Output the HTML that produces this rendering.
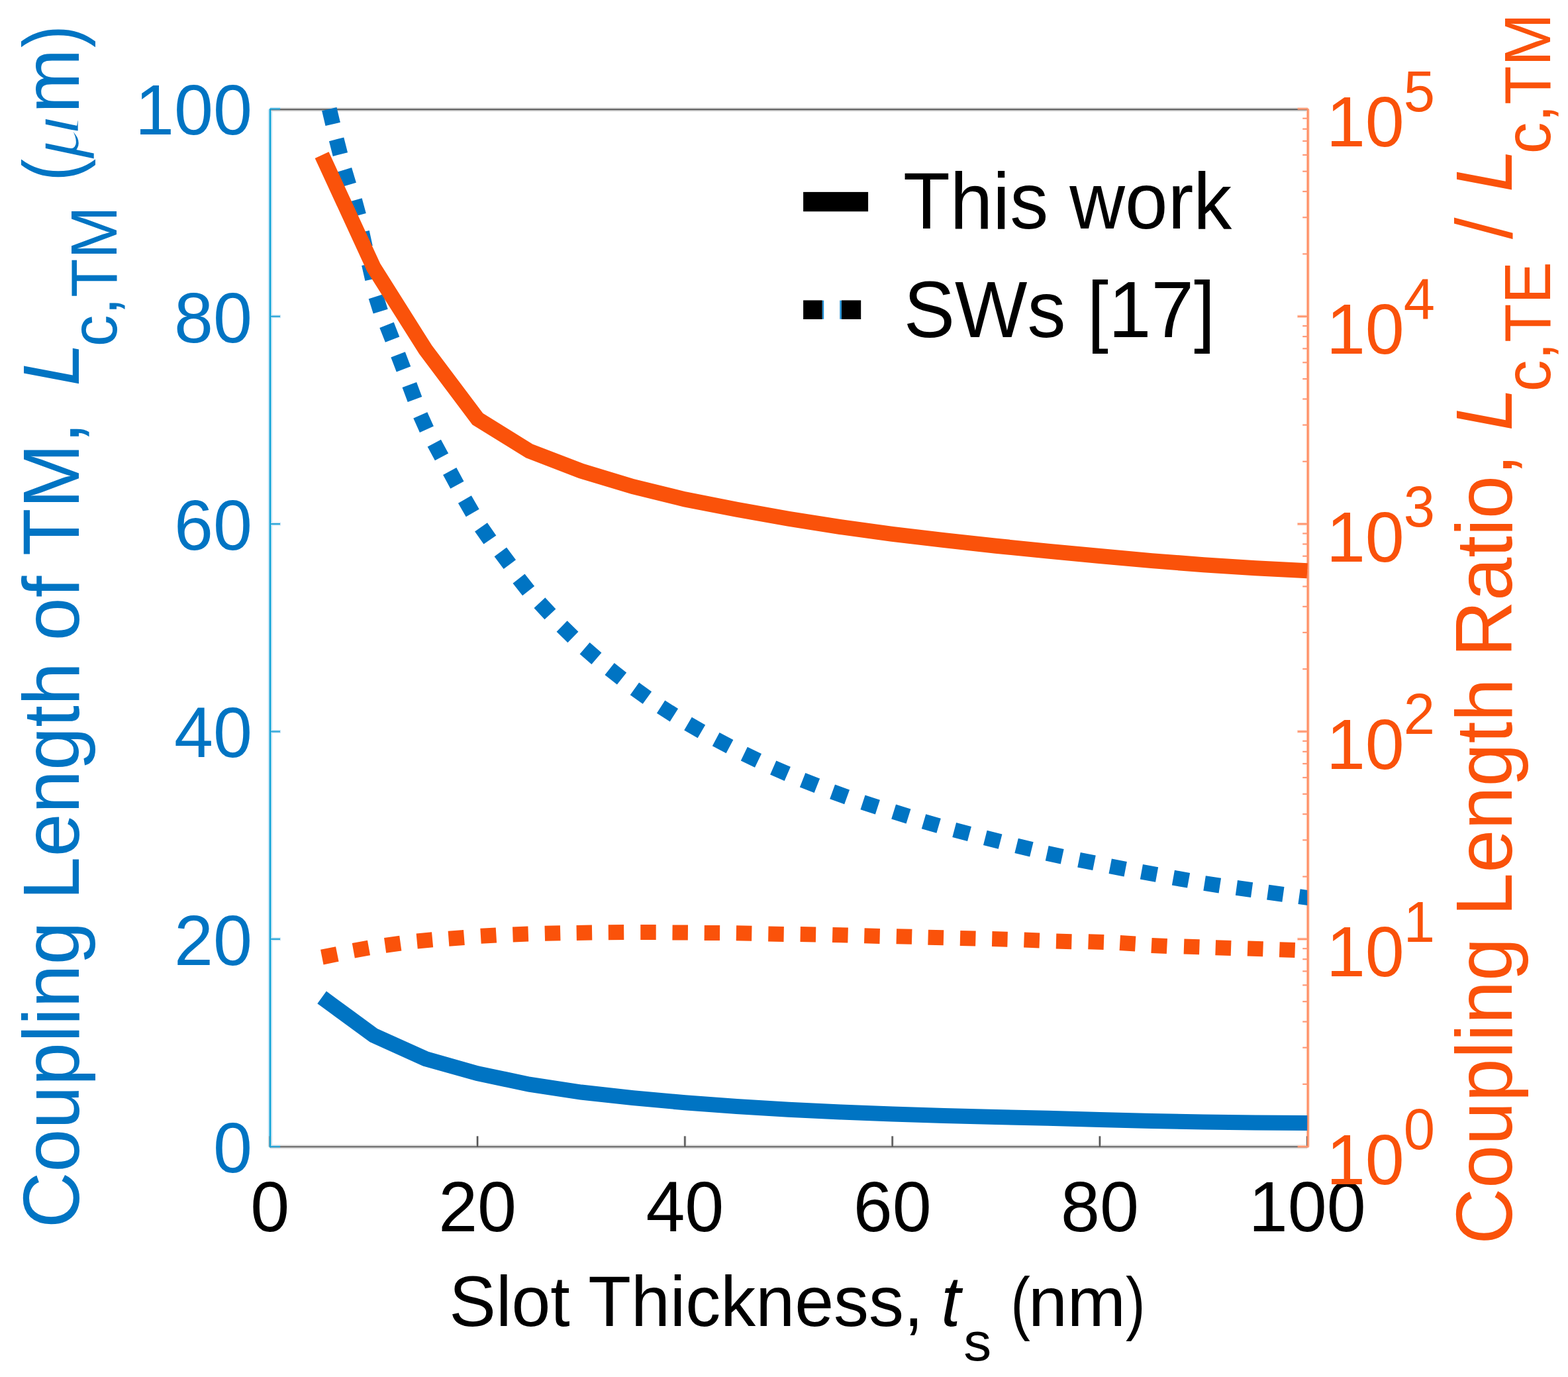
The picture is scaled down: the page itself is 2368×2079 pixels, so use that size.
<!DOCTYPE html>
<html><head><meta charset="utf-8"><title>Coupling length vs slot thickness</title><style>html,body{margin:0;padding:0;background:#fff;overflow:hidden}svg{display:block}</style></head><body>
<svg width="2368" height="2079" viewBox="0 0 2368 2079" font-family="'Liberation Sans', Arial, Helvetica, sans-serif">
<rect width="2368" height="2079" fill="#fff"/>
<defs><clipPath id="clipR"><rect x="0" y="0" width="1974.2" height="2079"/></clipPath></defs>
<g fill="none" stroke-linecap="butt">
<line x1="407.80" y1="165.30" x2="1974.20" y2="165.30" stroke="#e2e2e2" stroke-width="6.50"/>
<line x1="407.80" y1="1731.40" x2="1974.20" y2="1731.40" stroke="#e2e2e2" stroke-width="6.50"/>
<line x1="408.00" y1="165.30" x2="408.00" y2="1731.40" stroke="#cbe6f5" stroke-width="6.50"/>
<line x1="1975.20" y1="165.30" x2="1975.20" y2="1731.40" stroke="#ffe0d2" stroke-width="5.50"/>
<line x1="407.80" y1="1731.40" x2="407.80" y2="1715.40" stroke="#dcdcdc" stroke-width="4.50"/>
<line x1="721.08" y1="1731.40" x2="721.08" y2="1715.40" stroke="#dcdcdc" stroke-width="4.50"/>
<line x1="1034.36" y1="1731.40" x2="1034.36" y2="1715.40" stroke="#dcdcdc" stroke-width="4.50"/>
<line x1="1347.64" y1="1731.40" x2="1347.64" y2="1715.40" stroke="#dcdcdc" stroke-width="4.50"/>
<line x1="1660.92" y1="1731.40" x2="1660.92" y2="1715.40" stroke="#dcdcdc" stroke-width="4.50"/>
<line x1="1974.20" y1="1731.40" x2="1974.20" y2="1715.40" stroke="#dcdcdc" stroke-width="4.50"/>
<line x1="408.00" y1="1731.20" x2="424.00" y2="1731.20" stroke="#cfe8f6" stroke-width="5.00"/>
<line x1="408.00" y1="1417.84" x2="424.00" y2="1417.84" stroke="#cfe8f6" stroke-width="5.00"/>
<line x1="408.00" y1="1104.48" x2="424.00" y2="1104.48" stroke="#cfe8f6" stroke-width="5.00"/>
<line x1="408.00" y1="791.12" x2="424.00" y2="791.12" stroke="#cfe8f6" stroke-width="5.00"/>
<line x1="408.00" y1="477.76" x2="424.00" y2="477.76" stroke="#cfe8f6" stroke-width="5.00"/>
<line x1="408.00" y1="164.40" x2="424.00" y2="164.40" stroke="#cfe8f6" stroke-width="5.00"/>
<line x1="1975.20" y1="1731.20" x2="1959.20" y2="1731.20" stroke="#ffd9c8" stroke-width="4.50"/>
<line x1="1975.20" y1="1417.84" x2="1959.20" y2="1417.84" stroke="#ffd9c8" stroke-width="4.50"/>
<line x1="1975.20" y1="1104.48" x2="1959.20" y2="1104.48" stroke="#ffd9c8" stroke-width="4.50"/>
<line x1="1975.20" y1="791.12" x2="1959.20" y2="791.12" stroke="#ffd9c8" stroke-width="4.50"/>
<line x1="1975.20" y1="477.76" x2="1959.20" y2="477.76" stroke="#ffd9c8" stroke-width="4.50"/>
<line x1="1975.20" y1="164.40" x2="1959.20" y2="164.40" stroke="#ffd9c8" stroke-width="4.50"/>
<line x1="407.80" y1="165.30" x2="1974.20" y2="165.30" stroke="#6a6a6a" stroke-width="2.40"/>
<line x1="407.80" y1="1731.40" x2="1974.20" y2="1731.40" stroke="#6a6a6a" stroke-width="2.40"/>
<line x1="407.80" y1="1731.40" x2="407.80" y2="1715.40" stroke="#555555" stroke-width="2.30"/>
<line x1="721.08" y1="1731.40" x2="721.08" y2="1715.40" stroke="#555555" stroke-width="2.30"/>
<line x1="1034.36" y1="1731.40" x2="1034.36" y2="1715.40" stroke="#555555" stroke-width="2.30"/>
<line x1="1347.64" y1="1731.40" x2="1347.64" y2="1715.40" stroke="#555555" stroke-width="2.30"/>
<line x1="1660.92" y1="1731.40" x2="1660.92" y2="1715.40" stroke="#555555" stroke-width="2.30"/>
<line x1="1974.20" y1="1731.40" x2="1974.20" y2="1715.40" stroke="#555555" stroke-width="2.30"/>
<line x1="408.00" y1="164.10" x2="408.00" y2="1732.60" stroke="#0aa2d6" stroke-width="2.40"/>
<line x1="408.00" y1="1731.20" x2="423.00" y2="1731.20" stroke="#2aa6d8" stroke-width="2.20"/>
<line x1="408.00" y1="1417.84" x2="423.00" y2="1417.84" stroke="#2aa6d8" stroke-width="2.20"/>
<line x1="408.00" y1="1104.48" x2="423.00" y2="1104.48" stroke="#2aa6d8" stroke-width="2.20"/>
<line x1="408.00" y1="791.12" x2="423.00" y2="791.12" stroke="#2aa6d8" stroke-width="2.20"/>
<line x1="408.00" y1="477.76" x2="423.00" y2="477.76" stroke="#2aa6d8" stroke-width="2.20"/>
<line x1="408.00" y1="164.40" x2="423.00" y2="164.40" stroke="#2aa6d8" stroke-width="2.20"/>
<line x1="1975.20" y1="164.10" x2="1975.20" y2="1732.60" stroke="#ff8d62" stroke-width="2.80"/>
<line x1="1975.20" y1="1731.20" x2="1959.70" y2="1731.20" stroke="#ff9670" stroke-width="2.40"/>
<line x1="1975.20" y1="1636.87" x2="1967.20" y2="1636.87" stroke="#ff9a78" stroke-width="2.20"/>
<line x1="1975.20" y1="1581.69" x2="1967.20" y2="1581.69" stroke="#ff9a78" stroke-width="2.20"/>
<line x1="1975.20" y1="1542.54" x2="1967.20" y2="1542.54" stroke="#ff9a78" stroke-width="2.20"/>
<line x1="1975.20" y1="1512.17" x2="1967.20" y2="1512.17" stroke="#ff9a78" stroke-width="2.20"/>
<line x1="1975.20" y1="1487.36" x2="1967.20" y2="1487.36" stroke="#ff9a78" stroke-width="2.20"/>
<line x1="1975.20" y1="1466.38" x2="1967.20" y2="1466.38" stroke="#ff9a78" stroke-width="2.20"/>
<line x1="1975.20" y1="1448.21" x2="1967.20" y2="1448.21" stroke="#ff9a78" stroke-width="2.20"/>
<line x1="1975.20" y1="1432.18" x2="1967.20" y2="1432.18" stroke="#ff9a78" stroke-width="2.20"/>
<line x1="1975.20" y1="1417.84" x2="1959.70" y2="1417.84" stroke="#ff9670" stroke-width="2.40"/>
<line x1="1975.20" y1="1323.51" x2="1967.20" y2="1323.51" stroke="#ff9a78" stroke-width="2.20"/>
<line x1="1975.20" y1="1268.33" x2="1967.20" y2="1268.33" stroke="#ff9a78" stroke-width="2.20"/>
<line x1="1975.20" y1="1229.18" x2="1967.20" y2="1229.18" stroke="#ff9a78" stroke-width="2.20"/>
<line x1="1975.20" y1="1198.81" x2="1967.20" y2="1198.81" stroke="#ff9a78" stroke-width="2.20"/>
<line x1="1975.20" y1="1174.00" x2="1967.20" y2="1174.00" stroke="#ff9a78" stroke-width="2.20"/>
<line x1="1975.20" y1="1153.02" x2="1967.20" y2="1153.02" stroke="#ff9a78" stroke-width="2.20"/>
<line x1="1975.20" y1="1134.85" x2="1967.20" y2="1134.85" stroke="#ff9a78" stroke-width="2.20"/>
<line x1="1975.20" y1="1118.82" x2="1967.20" y2="1118.82" stroke="#ff9a78" stroke-width="2.20"/>
<line x1="1975.20" y1="1104.48" x2="1959.70" y2="1104.48" stroke="#ff9670" stroke-width="2.40"/>
<line x1="1975.20" y1="1010.15" x2="1967.20" y2="1010.15" stroke="#ff9a78" stroke-width="2.20"/>
<line x1="1975.20" y1="954.97" x2="1967.20" y2="954.97" stroke="#ff9a78" stroke-width="2.20"/>
<line x1="1975.20" y1="915.82" x2="1967.20" y2="915.82" stroke="#ff9a78" stroke-width="2.20"/>
<line x1="1975.20" y1="885.45" x2="1967.20" y2="885.45" stroke="#ff9a78" stroke-width="2.20"/>
<line x1="1975.20" y1="860.64" x2="1967.20" y2="860.64" stroke="#ff9a78" stroke-width="2.20"/>
<line x1="1975.20" y1="839.66" x2="1967.20" y2="839.66" stroke="#ff9a78" stroke-width="2.20"/>
<line x1="1975.20" y1="821.49" x2="1967.20" y2="821.49" stroke="#ff9a78" stroke-width="2.20"/>
<line x1="1975.20" y1="805.46" x2="1967.20" y2="805.46" stroke="#ff9a78" stroke-width="2.20"/>
<line x1="1975.20" y1="791.12" x2="1959.70" y2="791.12" stroke="#ff9670" stroke-width="2.40"/>
<line x1="1975.20" y1="696.79" x2="1967.20" y2="696.79" stroke="#ff9a78" stroke-width="2.20"/>
<line x1="1975.20" y1="641.61" x2="1967.20" y2="641.61" stroke="#ff9a78" stroke-width="2.20"/>
<line x1="1975.20" y1="602.46" x2="1967.20" y2="602.46" stroke="#ff9a78" stroke-width="2.20"/>
<line x1="1975.20" y1="572.09" x2="1967.20" y2="572.09" stroke="#ff9a78" stroke-width="2.20"/>
<line x1="1975.20" y1="547.28" x2="1967.20" y2="547.28" stroke="#ff9a78" stroke-width="2.20"/>
<line x1="1975.20" y1="526.30" x2="1967.20" y2="526.30" stroke="#ff9a78" stroke-width="2.20"/>
<line x1="1975.20" y1="508.13" x2="1967.20" y2="508.13" stroke="#ff9a78" stroke-width="2.20"/>
<line x1="1975.20" y1="492.10" x2="1967.20" y2="492.10" stroke="#ff9a78" stroke-width="2.20"/>
<line x1="1975.20" y1="477.76" x2="1959.70" y2="477.76" stroke="#ff9670" stroke-width="2.40"/>
<line x1="1975.20" y1="383.43" x2="1967.20" y2="383.43" stroke="#ff9a78" stroke-width="2.20"/>
<line x1="1975.20" y1="328.25" x2="1967.20" y2="328.25" stroke="#ff9a78" stroke-width="2.20"/>
<line x1="1975.20" y1="289.10" x2="1967.20" y2="289.10" stroke="#ff9a78" stroke-width="2.20"/>
<line x1="1975.20" y1="258.73" x2="1967.20" y2="258.73" stroke="#ff9a78" stroke-width="2.20"/>
<line x1="1975.20" y1="233.92" x2="1967.20" y2="233.92" stroke="#ff9a78" stroke-width="2.20"/>
<line x1="1975.20" y1="212.94" x2="1967.20" y2="212.94" stroke="#ff9a78" stroke-width="2.20"/>
<line x1="1975.20" y1="194.77" x2="1967.20" y2="194.77" stroke="#ff9a78" stroke-width="2.20"/>
<line x1="1975.20" y1="178.74" x2="1967.20" y2="178.74" stroke="#ff9a78" stroke-width="2.20"/>
<line x1="1975.20" y1="164.40" x2="1959.70" y2="164.40" stroke="#ff9670" stroke-width="2.40"/>
</g>
<g fill="none" stroke-linejoin="miter" stroke-miterlimit="10">
<path d="M497.3 164.6L502.7 187.4M508.1 210.3L513.9 233.1M520.1 256.4L526.9 279.0M535.5 302.4L541.7 325.0M546.5 350.5L551.5 373.5M557.4 398.5L562.6 421.5M567.7 447.7L574.7 470.1M584.0 490.8L592.6 512.6M601.1 535.3L609.5 557.3M618.3 581.0L626.5 603.0M634.8 626.9L644.4 648.3M655.8 669.1L667.0 689.9M679.2 711.6L690.4 732.2M701.9 754.0L713.7 774.4M726.5 795.8L739.9 815.0M755.8 833.4L769.8 852.2M783.5 873.7L798.1 892.1M814.9 910.1L830.9 927.3M848.6 945.6L865.4 962.0M883.1 978.8L900.9 994.2M920.6 1010.0L939.0 1024.6M958.4 1039.9L977.4 1053.5M998.1 1067.1L1017.9 1079.7M1039.0 1092.6L1059.4 1104.4M1081.2 1116.1L1102.0 1127.1M1123.8 1138.2L1145.0 1148.4M1167.7 1159.0L1189.3 1168.4M1212.1 1177.7L1233.9 1186.3M1257.1 1195.4L1279.1 1203.4M1303.0 1211.4L1325.4 1218.6M1349.6 1225.5L1372.0 1232.5M1395.0 1240.2L1417.6 1246.8M1441.2 1253.0L1464.0 1259.0M1487.8 1264.9L1510.6 1270.7M1535.1 1276.8L1557.9 1282.4M1581.2 1288.2L1604.2 1293.2M1629.5 1298.2L1652.5 1302.8M1676.7 1307.8L1699.7 1312.2M1723.9 1316.3L1747.1 1320.5M1771.9 1325.1L1795.1 1329.3M1819.1 1333.5L1842.3 1337.1M1867.4 1340.4L1890.6 1343.6M1914.7 1347.2L1937.9 1350.4M1962.0 1353.7L1985.2 1356.9" stroke="#0074C3" stroke-width="23" clip-path="url(#clipR)"/>
<polyline points="486.1,1505.9 564.4,1563.2 642.7,1598.6 721.0,1620.7 799.3,1637.2 877.6,1649.0 955.9,1657.6 1034.2,1664.8 1112.5,1670.5 1190.8,1675.2 1269.1,1679.0 1347.4,1682.0 1425.7,1684.5 1504.0,1686.4 1582.3,1688.3 1660.6,1690.6 1738.9,1692.5 1817.2,1693.9 1895.5,1694.9 1974.2,1695.5" stroke="#0074C3" stroke-width="23"/>
<path d="M486.3 1445.1L509.3 1440.5M533.8 1435.2L557.0 1431.0M581.6 1427.4L604.8 1424.2M629.7 1421.0L653.1 1418.8M677.5 1417.3L700.9 1415.5M726.0 1413.3L749.4 1411.9M774.4 1410.9L797.8 1410.1M822.8 1409.3L846.2 1408.7M870.7 1408.4L894.1 1408.0M918.8 1407.7L942.2 1407.5M967.3 1407.6L990.7 1407.6M1015.5 1407.9L1038.9 1408.1M1063.7 1408.4L1087.1 1408.6M1111.9 1408.8L1135.3 1409.2M1160.3 1410.0L1183.7 1410.4M1208.7 1410.6L1232.1 1411.0M1257.2 1411.4L1280.6 1412.0M1305.3 1412.8L1328.7 1413.4M1353.8 1413.7L1377.2 1414.3M1401.6 1415.2L1425.0 1415.8M1450.0 1416.4L1473.4 1417.0M1498.2 1417.6L1521.6 1418.2M1546.5 1419.1L1569.9 1419.9M1595.0 1421.1L1618.4 1421.7M1643.6 1421.7L1667.0 1422.5M1691.3 1423.6L1714.7 1425.0M1739.0 1427.4L1762.4 1428.6M1788.0 1429.0L1811.4 1429.8M1835.7 1430.8L1859.1 1431.6M1884.1 1432.0L1907.5 1432.8M1932.3 1433.7L1955.7 1434.5" stroke="#FA520A" stroke-width="23"/>
<polyline points="486.1,234.1 564.4,404.0 642.7,528.0 721.3,632.5 799.4,681.0 877.7,711.1 956.0,734.7 1034.4,753.9 1112.7,769.3 1191.0,783.2 1269.3,795.6 1347.6,806.3 1426.0,815.6 1504.3,824.2 1582.6,832.1 1660.9,839.5 1739.2,846.6 1817.6,852.7 1895.9,857.7 1974.2,861.7" stroke="#FA520A" stroke-width="23"/>
</g>
<text transform="translate(380.94 1770.00) scale(1 1.020)" font-size="106.0" fill="#0074C3" text-anchor="end">0</text>
<text transform="translate(380.94 1456.64) scale(1 1.020)" font-size="106.0" fill="#0074C3" text-anchor="end">20</text>
<text transform="translate(380.94 1143.28) scale(1 1.020)" font-size="106.0" fill="#0074C3" text-anchor="end">40</text>
<text transform="translate(380.94 829.92) scale(1 1.020)" font-size="106.0" fill="#0074C3" text-anchor="end">60</text>
<text transform="translate(380.94 516.56) scale(1 1.020)" font-size="106.0" fill="#0074C3" text-anchor="end">80</text>
<text transform="translate(380.94 203.20) scale(1 1.020)" font-size="106.0" fill="#0074C3" text-anchor="end">100</text>
<text transform="translate(407.80 1859.00) scale(1 1.020)" font-size="106.0" fill="#000" text-anchor="middle">0</text>
<text transform="translate(721.08 1859.00) scale(1 1.020)" font-size="106.0" fill="#000" text-anchor="middle">20</text>
<text transform="translate(1034.36 1859.00) scale(1 1.020)" font-size="106.0" fill="#000" text-anchor="middle">40</text>
<text transform="translate(1347.64 1859.00) scale(1 1.020)" font-size="106.0" fill="#000" text-anchor="middle">60</text>
<text transform="translate(1660.92 1859.00) scale(1 1.020)" font-size="106.0" fill="#000" text-anchor="middle">80</text>
<text transform="translate(1974.20 1859.00) scale(1 1.020)" font-size="106.0" fill="#000" text-anchor="middle">100</text>
<text transform="translate(2002.90 1787.70) scale(1 1.020)" font-size="106.0" fill="#FA520A">10</text>
<text transform="translate(2119.80 1735.20) scale(1 1.020)" font-size="85.0" fill="#FA520A">0</text>
<text transform="translate(2002.90 1474.34) scale(1 1.020)" font-size="106.0" fill="#FA520A">10</text>
<text transform="translate(2119.80 1421.84) scale(1 1.020)" font-size="85.0" fill="#FA520A">1</text>
<text transform="translate(2002.90 1160.98) scale(1 1.020)" font-size="106.0" fill="#FA520A">10</text>
<text transform="translate(2119.80 1108.48) scale(1 1.020)" font-size="85.0" fill="#FA520A">2</text>
<text transform="translate(2002.90 847.62) scale(1 1.020)" font-size="106.0" fill="#FA520A">10</text>
<text transform="translate(2119.80 795.12) scale(1 1.020)" font-size="85.0" fill="#FA520A">3</text>
<text transform="translate(2002.90 534.26) scale(1 1.020)" font-size="106.0" fill="#FA520A">10</text>
<text transform="translate(2119.80 481.76) scale(1 1.020)" font-size="85.0" fill="#FA520A">4</text>
<text transform="translate(2002.90 220.90) scale(1 1.020)" font-size="106.0" fill="#FA520A">10</text>
<text transform="translate(2119.80 168.40) scale(1 1.020)" font-size="85.0" fill="#FA520A">5</text>
<text transform="translate(678.29 2002.20) scale(1.0000 1.0100)" font-size="105.90" fill="#000">Slot Thickness,</text>
<text transform="translate(1421.19 2002.20) scale(1.0000 1.0100)" font-size="105.90" fill="#000" font-style="italic">t</text>
<text transform="translate(1455.16 2054.30) scale(1.0000 0.9800)" font-size="84.00" fill="#000">s</text>
<text transform="translate(1526.28 2003.20) scale(0.8405 0.9900)" font-size="105.90" fill="#000">(</text>
<text transform="translate(1552.97 2002.20) scale(1.0000 1.0000)" font-size="105.90" fill="#000">nm</text>
<text transform="translate(1700.08 2003.20) scale(0.8405 0.9900)" font-size="105.90" fill="#000">)</text>
<rect x="1213.1" y="289.9" width="98" height="29.4" fill="#000"/>
<rect x="1241.6" y="453.6" width="2.6" height="28.2" fill="#1f8fd4"/>
<rect x="1268.3" y="453.6" width="2.6" height="28.2" fill="#1f8fd4"/>
<rect x="1213.1" y="453.4" width="28.6" height="28.6" fill="#000"/>
<rect x="1271.0" y="453.4" width="29.2" height="28.6" fill="#000"/>
<text transform="translate(1363.99 344.80) scale(1.0000 1.0430)" font-size="116.00" fill="#000">This work</text>
<text transform="translate(1364.73 509.10) scale(1.0000 1.0430)" font-size="116.00" fill="#000">SWs [17]</text>
<text transform="translate(118.70 1854.36) rotate(-90) scale(1.0000 1.0300)" font-size="117.30" fill="#0074C3">Coupling Length of TM,</text>
<text transform="translate(118.70 582.81) rotate(-90) scale(1.0000 1.0300)" font-size="117.30" fill="#0074C3" font-style="italic">L</text>
<text transform="translate(176.20 523.36) rotate(-90) scale(1.0000 1.0300)" font-size="95.50" fill="#0074C3">c,TM</text>
<text stroke="#fff" stroke-width="2.6" paint-order="fill" transform="translate(118.70 241.07) rotate(-90) scale(1.1434 0.9500)" font-size="117.30" fill="#0074C3" font-style="italic" font-family="'Liberation Serif', 'Times New Roman', serif">μ</text>
<text transform="translate(118.70 273.57) rotate(-90) scale(0.8617 1.0300)" font-size="117.30" fill="#0074C3">(</text>
<text transform="translate(118.70 171.29) rotate(-90) scale(1.0000 1.0300)" font-size="117.30" fill="#0074C3">m</text>
<text transform="translate(118.70 71.79) rotate(-90) scale(0.8585 1.0300)" font-size="117.30" fill="#0074C3">)</text>
<text transform="translate(2283.00 1878.66) rotate(-90) scale(1.0000 1.0300)" font-size="117.30" fill="#FA520A">Coupling Length Ratio,</text>
<text transform="translate(2283.00 650.51) rotate(-90) scale(1.0000 1.0300)" font-size="117.30" fill="#FA520A" font-style="italic">L</text>
<text transform="translate(2340.50 591.36) rotate(-90) scale(1.0000 1.0300)" font-size="95.50" fill="#FA520A">c,TE</text>
<text transform="translate(2283.00 360.90) rotate(-90) scale(1.0000 1.0300)" font-size="117.30" fill="#FA520A">/</text>
<text transform="translate(2283.00 289.91) rotate(-90) scale(1.0000 1.0300)" font-size="117.30" fill="#FA520A" font-style="italic">L</text>
<text transform="translate(2340.50 232.36) rotate(-90) scale(1.0000 1.0300)" font-size="95.50" fill="#FA520A">c,TM</text>
</svg></body></html>
